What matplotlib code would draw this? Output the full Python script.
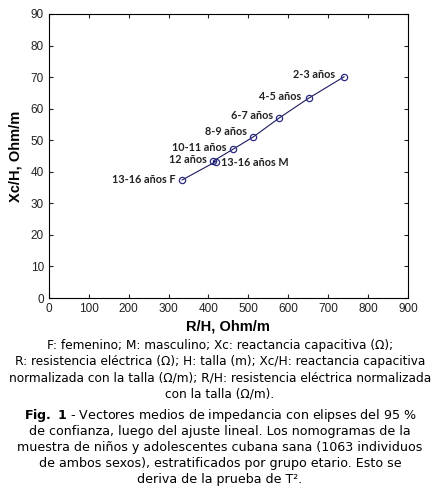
import matplotlib.pyplot as plt

# mean impedance vectors per age group
groups = ['2-3 años', '4-5 años', '6-7 años', '8-9 años', '10-11 años',
          '12 años', '13-16 años M', '13-16 años F']
r_h = [740, 651, 578, 513, 461, 412, 418, 334]
xc_h = [70.1, 63.3, 57.1, 51.1, 47.1, 43.4, 43.2, 37.4]

# label offsets in pixels (dx, dy, ha)
offsets = [(-9, 2, 'right'), (-7, 2, 'right'), (-6, 2, 'right'), (-6, 5, 'right'),
           (-6, 2, 'right'), (-6, 2, 'right'), (5, -1, 'left'), (-7, 1, 'right')]

xticks = list(range(0, 901, 100))
yticks = list(range(0, 91, 10))

fig = plt.figure(figsize=(4.4, 4.91), dpi=100)
ax = fig.add_axes([0.111, 0.393, 0.816, 0.5785])

# line through the group means
ax.plot(r_h, xc_h, color='#1a1a5e', lw=0.8)
ax.plot(r_h, xc_h, 'o', mfc='none', mec='#2a2a80', ms=4.5, mew=0.9)

for g, x, y, (dx, dy, ha) in zip(groups, r_h, xc_h, offsets):
    ax.annotate(g, (x, y), xytext=(dx, dy), textcoords='offset pixels',
                ha=ha, va='center', fontsize=7.8, fontweight='bold',
                family='Lato', color='#222222')

ax.set_xlim(0, 900)
ax.set_ylim(0, 90)
ax.set_xticks(xticks)
ax.set_yticks(yticks)
ax.tick_params(direction='in', top=True, right=True, length=3, width=0.8,
               labelsize=8.5, colors='#222222')
for lab in ax.get_xticklabels() + ax.get_yticklabels():
    lab.set_family('Liberation Sans')
for s in ax.spines.values():
    s.set_linewidth(0.8)

ax.set_xlabel('R/H, Ohm/m', fontsize=10.5, fontweight='bold',
              family='Liberation Sans', labelpad=3)
ax.set_ylabel('Xc/H, Ohm/m', fontsize=10.5, fontweight='bold',
              family='Liberation Sans', labelpad=6)

legend_lines = ['F: femenino; M: masculino; Xc: reactancia capacitiva (\u03a9);',
                'R: resistencia eléctrica (\u03a9); H: talla (m); Xc/H: reactancia capacitiva',
                'normalizada con la talla (\u03a9/m); R/H: resistencia eléctrica normalizada',
                'con la talla (\u03a9/m).']
for i, line in enumerate(legend_lines):
    fig.text(0.5, 1 - (346 + 16 * i) / 491, line, ha='center', va='center',
             fontsize=8.7, family='DejaVu Sans')

cap_lines = [r'$\bf{Fig.\ 1}$' + ' - Vectores medios de impedancia con elipses del 95 %',
             'de confianza, luego del ajuste lineal. Los nomogramas de la',
             'muestra de niños y adolescentes cubana sana (1063 individuos',
             'de ambos sexos), estratificados por grupo etario. Esto se',
             'deriva de la prueba de T\u00b2.']
for i, line in enumerate(cap_lines):
    fig.text(0.5, 1 - (415 + 16 * i) / 491, line, ha='center', va='center',
             fontsize=9.1, family='DejaVu Sans')

fig.savefig('out.png', dpi=100)
